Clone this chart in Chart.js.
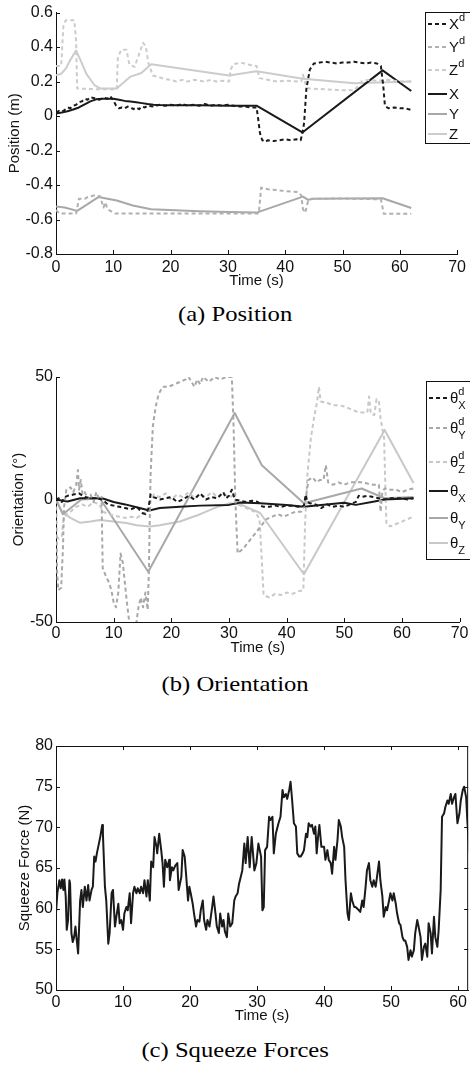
<!DOCTYPE html>
<html>
<head>
<meta charset="utf-8">
<script src="https://cdn.jsdelivr.net/npm/chart.js@4.4.1/dist/chart.umd.min.js"></script>
<style>
  body { margin: 0; background: #fff; width: 470px; height: 1070px; position: relative; overflow: hidden; }
  canvas { position: absolute; left: 0; }
  .cap { position: absolute; left: 0; width: 470px; text-align: center; color: #000;
         font: 22px "Liberation Serif", "Times New Roman", serif; line-height: 24px;
         transform: scaleX(1.12); transform-origin: 234px 50%; }
</style>
</head>
<body>
<canvas id="pos" width="470" height="300" style="top:0"></canvas>
<canvas id="ori" width="470" height="320" style="top:340px"></canvas>
<canvas id="frc" width="470" height="330" style="top:700px"></canvas>
<div class="cap" style="top:302px">(a) Position</div>
<div class="cap" style="top:672px">(b) Orientation</div>
<div class="cap" style="top:1038px">(c) Squeeze Forces</div>
<script>
// ---- (a) Position, [time s, metres]
const posXd = [[0,0.02],[0.5,0.03],[1,0.025],[1.5,0.035],[2,0.05],[2.5,0.045],[3,0.06],[3.5,0.065],[4,0.08],[4.5,0.085],[5,0.1],[5.5,0.095],[6,0.11],[6.5,0.105],[7,0.1],[7.5,0.095],[8,0.1],[8.5,0.105],[9,0.1],[9.5,0.115],[10,0.09],[10.5,0.06],[11,0.045],[11.5,0.05],[12,0.045],[12.5,0.055],[13,0.05],[13.5,0.04],[14,0.05],[14.5,0.04],[15,0.055],[15.5,0.05],[16,0.06],[17,0.055],[18,0.065],[19,0.06],[20,0.065],[21,0.06],[22,0.07],[23,0.06],[24,0.065],[25,0.06],[26,0.07],[27,0.06],[28,0.065],[29,0.06],[30,0.065],[31,0.06],[32,0.055],[33,0.055],[34,0.05],[35,0.05],[35.3,-0.02],[35.6,-0.1],[36,-0.14],[36.5,-0.15],[37,-0.14],[38,-0.145],[39,-0.14],[40,-0.135],[41,-0.14],[42,-0.135],[42.7,-0.14],[43,-0.1],[43.3,-0.04],[43.7,0.16],[44.3,0.27],[45,0.305],[46,0.31],[47,0.315],[48,0.31],[49,0.305],[50,0.31],[51,0.31],[52,0.315],[53,0.31],[54,0.305],[55,0.31],[56,0.305],[56.7,0.29],[57.1,0.18],[57.4,0.06],[58,0.045],[59,0.05],[60,0.045],[61,0.045],[62,0.035]];
const posYd = [[0,-0.545],[0.6,-0.565],[3.5,-0.565],[4,-0.48],[5,-0.48],[5.5,-0.47],[6.7,-0.46],[7.7,-0.465],[8,-0.5],[8.3,-0.53],[8.6,-0.5],[9,-0.54],[9.5,-0.55],[10.3,-0.565],[35.4,-0.565],[35.8,-0.415],[37,-0.425],[38.7,-0.43],[40,-0.435],[42.2,-0.44],[42.8,-0.46],[43.1,-0.54],[43.5,-0.56],[44,-0.49],[44.6,-0.48],[50,-0.478],[56.7,-0.483],[57.2,-0.567],[62,-0.567]];
const posZd = [[0,0.29],[0.9,0.29],[1.3,0.53],[1.7,0.555],[3.2,0.555],[3.5,0.44],[3.7,0.16],[7.7,0.155],[10.6,0.155],[10.8,0.34],[11.4,0.385],[12.3,0.385],[12.8,0.3],[13.7,0.285],[14.3,0.34],[15.2,0.425],[15.7,0.4],[16.1,0.31],[16.9,0.235],[18,0.225],[19,0.215],[20,0.21],[21,0.2],[22,0.21],[23,0.2],[24,0.21],[25,0.205],[26,0.2],[27,0.21],[28,0.2],[29,0.205],[30.2,0.2],[30.5,0.27],[30.9,0.3],[32.3,0.31],[33.4,0.3],[35,0.29],[35.5,0.22],[37,0.21],[38.7,0.2],[40,0.205],[42.8,0.2],[43.1,0.24],[43.5,0.19],[44,0.16],[47,0.155],[50,0.15],[52.1,0.15],[53.3,0.2],[54.5,0.21],[56,0.205],[58,0.21],[60,0.2],[62,0.2]];
const posX = [[0,0.015],[1,0.02],[2,0.028],[3,0.038],[4,0.05],[5,0.068],[6,0.085],[7,0.097],[8,0.1],[9,0.1],[10,0.1],[11,0.094],[12,0.088],[13,0.085],[14,0.08],[15,0.075],[16,0.07],[17,0.066],[18,0.064],[20,0.063],[25,0.062],[30,0.06],[35,0.06],[43,-0.095],[57,0.265],[62,0.145]];
const posY = [[0,-0.524],[1.5,-0.53],[3.7,-0.55],[7.4,-0.47],[10.6,-0.49],[13.4,-0.519],[16.6,-0.541],[25,-0.552],[30.2,-0.557],[35,-0.56],[43.1,-0.467],[44,-0.486],[45,-0.48],[57,-0.477],[62,-0.533]];
const posZ = [[0,0.237],[0.9,0.245],[1.8,0.28],[2.4,0.32],[3.5,0.38],[4.2,0.33],[5.3,0.245],[6.7,0.18],[7.7,0.16],[10.6,0.16],[12.9,0.227],[14.9,0.25],[16.6,0.3],[30.2,0.235],[35,0.26],[43.1,0.216],[52.1,0.19],[56.2,0.195],[62,0.2]];
const posLegend = [['X','d'],['Y','d'],['Z','d'],['X'],['Y'],['Z']];

// ---- (b) Orientation, [time s, degrees]
const oriXd = [[0,0],[0.5,0.5],[1,-1],[1.5,1],[2,1.5],[3,2],[4,2.5],[5,1],[6,0.5],[7,0.5],[8,0],[9,-2],[10,-2.5],[11,-3],[12,-3.5],[13,-4],[14,-3],[15,-5.5],[15.5,-6],[16,-4],[16.4,2],[16.8,1],[17.5,0.5],[18,0],[19,0.5],[20,1],[21,-1],[22,0],[23,1.5],[24,0],[25,2.5],[26,0],[27,1],[28,0.5],[29,3],[29.5,0.5],[30,1.5],[30.5,4],[31,0],[32,-0.5],[33,-1],[34,-0.5],[35,-1],[35.5,-2.5],[36,-3],[37,-3],[38,-2.5],[39,-3],[40,-2.5],[41,-2.5],[42,-3],[43,-2.5],[43.3,2],[43.6,-1],[44,-1.5],[45,-2],[46,-3.5],[47,-2],[48,-3],[49,-2.5],[50,-3],[51,-2],[52,-1],[52.5,1.5],[53,1],[54,1.5],[55,1],[56,0.5],[57,0],[58,0.5],[59,0.5],[60,0.5],[61,0],[62,0.5]];
const oriYd = [[0,0],[0.2,-30],[0.4,-37],[0.9,-36],[1.2,-20],[1.4,-3],[1.8,4],[2.5,5],[3,3],[3.5,6],[3.8,12],[4,4],[4.3,8],[4.6,2],[5,3],[5.5,0],[6,2],[6.5,-1],[7,3],[7.5,0],[7.9,1],[8.1,-28],[8.6,-31],[9.2,-34],[9.6,-37],[10,-42],[10.4,-44],[10.8,-38],[11.2,-22],[11.6,-26],[12.2,-40],[12.7,-50],[13.3,-53],[13.9,-51],[14.3,-44],[14.7,-40],[15.1,-44],[15.5,-38],[15.9,-45],[16.1,-30],[16.4,10],[16.8,30],[17.3,38],[17.8,43],[18.5,46],[19.5,46],[20.5,47],[21.5,48],[22.5,49],[23,50],[23.5,48],[24,46],[24.5,49],[25,47],[25.5,50],[26.5,48],[27.5,50],[28.5,49],[29.5,50],[30.5,50],[30.8,30],[31.1,0],[31.5,-22],[32.5,-20],[33.5,-17],[34.5,-14],[35.5,-11],[36.5,-8],[37.5,-7],[38.5,-6],[39.5,-7],[40.5,-6],[41.5,-5],[42.5,-5],[43,-3],[43.4,2],[43.8,8],[44.5,9],[45.2,7],[45.8,8],[46.4,8],[46.8,14],[47.2,7],[48,6],[49,7],[50,6],[51,7],[52,7],[53,7],[54,6.5],[55,6],[56,6],[56.3,-5],[56.6,3],[57,4.5],[58,4],[59,4],[60,3],[61,4],[62,4.5]];
const oriZd = [[0,-15],[0.5,-16],[1,-15],[1.3,-8],[1.8,-6],[2.5,-5],[3.5,-3],[4.5,-2],[5.5,-3],[6.5,-1],[7.5,-2],[8.2,-5],[9,-6],[10,-6.5],[11,-7],[12,-7.5],[13,-7],[14,-7.5],[15,-6],[16,-5],[16.5,0],[17,2],[18,1],[19,2.5],[20,0],[21,2],[22,1],[23,3],[24,0.5],[25,2],[26,1],[27,3],[28,1],[29,2.5],[30,1],[30.8,1.5],[31.5,-2],[32.5,-3],[33.5,-4],[34.5,-5],[35.3,-8],[35.7,-25],[36,-39],[37,-40],[38,-38.5],[39,-39],[40,-38],[41,-38.5],[42,-37.5],[42.9,-37],[43.2,-10],[43.6,10],[44.2,25],[44.8,34],[45.3,40],[45.6,46],[45.9,40],[47,39.5],[48,38.5],[49,38.5],[50,38],[51,37],[52,36],[53,35.5],[54,35.5],[54.3,42],[54.6,35],[55.2,34.5],[55.6,41],[56,40],[56.3,33],[56.9,25],[57.3,-10],[58,-11],[59,-10],[60,-9],[61,-8],[62,-7]];
const oriX = [[0,0],[1.2,-0.5],[2,-0.8],[4.2,0.5],[6,0.5],[8,0.5],[10,-1],[12,-2],[14,-3.2],[16.2,-4.5],[18,-3.5],[21.5,-3],[25,-2.5],[30,-2.2],[32,-1.2],[35.4,-1.5],[40,-2.2],[43,-3],[46,-2.2],[50,-1.3],[52,-2.2],[55,-0.9],[57,0],[60,0.3],[62,0.5]];
const oriY = [[0,0],[1.2,-6],[4.4,0],[7.6,0.5],[16,-29.5],[31,35.3],[35.7,14],[43,-1.5],[53,4.5],[57,0.5],[62,1]];
const oriZ = [[0,0],[1,-5],[2.5,-7.5],[4.2,-9.5],[6,-9],[7.6,-8.4],[10,-9],[12.2,-9.6],[14,-10.5],[16.3,-11],[18,-10.5],[21.5,-9],[25,-6],[28,-3],[30.2,-1.5],[32,-2],[35.4,-5.5],[43,-30.5],[57,28.4],[62,6.7]];
const oriLegend = [['θ','d','X'],['θ','d','Y'],['θ','d','Z'],['θ','','X'],['θ','','Y'],['θ','','Z']];

// ---- (c) Squeeze force, [time s, N]
const force = [[0,59.4],[0.2,61.9],[0.5,63.5],[0.7,62.5],[0.9,63.6],[1.1,62.3],[1.25,63.6],[1.45,61.5],[1.6,57.4],[1.8,58.6],[2,63.5],[2.1,63.1],[2.3,57],[2.5,55.9],[2.7,56.5],[2.9,57.8],[3.1,56.1],[3.3,54.5],[3.6,61],[3.8,62.3],[4,60.2],[4.3,62.7],[4.55,61],[4.8,62.9],[5,61],[5.3,62.3],[5.5,62.7],[5.7,66.4],[5.9,65.8],[6.1,66.8],[6.4,68],[6.6,68.8],[6.9,70.3],[7,69.2],[7.3,62.7],[7.5,61],[7.8,55.7],[8,57],[8.3,61.9],[8.5,62.3],[8.8,57.8],[9,59],[9.3,60.6],[9.5,58.2],[9.75,58.6],[10,57.4],[10.2,59.4],[10.5,60.2],[10.7,59.8],[11,61.9],[11.2,58.2],[11.5,61.9],[11.7,62.7],[12,61.9],[12.2,62.5],[12.5,61.9],[12.7,62.7],[13,61.9],[13.2,63.5],[13.5,61.5],[13.7,63.5],[14,61],[14.2,65.8],[14.5,65.1],[14.7,68.8],[15,67.6],[15.1,66.8],[15.4,69.2],[15.7,67.2],[15.9,65.6],[16.1,62.7],[16.3,66],[16.6,65.1],[16.9,66],[17,63.5],[17.3,65.1],[17.5,64.7],[17.8,65.3],[18.1,65.6],[18.3,62.3],[18.7,63.9],[18.9,67.2],[19.2,66.4],[19.4,64.3],[19.7,61],[19.9,62.7],[20.1,61.9],[20.4,60.6],[20.6,59.4],[20.9,57.8],[21.1,58.6],[21.4,58.4],[21.6,59.8],[21.9,61],[22.1,58.6],[22.4,57.4],[22.6,58.6],[22.9,57.8],[23.3,60.2],[23.5,61.5],[23.8,59.4],[24,57.8],[24.3,57],[24.5,59.4],[24.8,57.8],[25,58.6],[25.2,57.2],[25.5,56.5],[25.7,59.4],[26,57.8],[26.3,58.2],[26.6,61],[26.8,61.5],[27.1,61.9],[27.3,63],[27.8,64.7],[28.1,68],[28.3,65.6],[28.6,68.8],[28.9,65.1],[29.2,68.8],[29.6,64.7],[29.9,65.6],[30.2,68],[30.6,66.4],[30.8,59.8],[31,60.2],[31.2,67.2],[31.5,67.6],[31.8,71.3],[32,70.9],[32.3,71.3],[32.5,66.8],[32.8,69.2],[33.2,70.5],[33.5,71.3],[33.8,74.6],[34,73.7],[34.3,74.1],[34.5,73.5],[34.8,74.6],[35,75.6],[35.2,73.7],[35.5,70.5],[35.8,70.1],[36,66.8],[36.3,66.4],[36.5,66.4],[36.8,66.8],[37,67.2],[37.3,69.2],[37.5,68.8],[37.7,70.5],[38,70.1],[38.2,70.3],[38.5,69.2],[38.7,70.1],[38.9,66.8],[39.1,68.8],[39.3,70.3],[39.6,67.6],[40,67.6],[40.2,66],[40.5,67.2],[40.7,66],[41,65.6],[41.2,64.3],[41.5,67.6],[41.7,66],[42,68.4],[42.2,70.9],[42.5,70.1],[42.7,68.8],[43,67.6],[43.2,63.5],[43.5,59.4],[43.7,58.6],[44,61.9],[44.2,61],[44.5,60.2],[44.7,60.2],[45.2,59.8],[45.4,59.6],[45.7,61],[45.9,60.2],[46.2,62.7],[46.4,64.7],[46.7,65.6],[46.9,63.5],[47.2,62.7],[47.4,63.5],[47.7,62.7],[47.9,63.9],[48.2,65.8],[48.4,63.5],[48.7,61.5],[48.9,59],[49.2,60.2],[49.4,59.8],[49.7,61],[49.9,61.9],[50.2,61],[50.4,61.9],[50.7,60.6],[50.9,59.4],[51.2,58.2],[51.4,58],[51.7,56.5],[51.9,56.1],[52.1,56.1],[52.4,55.3],[52.6,53.7],[52.9,54.9],[53.1,54.1],[53.4,54.9],[53.6,57],[53.9,58.6],[54.1,57.8],[54.4,56.5],[54.6,53.7],[54.9,55.3],[55.1,55.7],[55.4,54.1],[55.6,58.2],[55.9,57],[56.1,54.5],[56.4,59],[56.6,56.5],[56.9,55.3],[57.1,57.4],[57.4,62.3],[57.6,71.3],[57.9,71.7],[58.1,72.5],[58.4,73.3],[58.6,72.9],[58.9,74.1],[59.1,72.9],[59.4,73.7],[59.6,74.1],[59.9,70.5],[60.2,71.7],[60.4,73.3],[60.7,74.6],[60.9,75],[61.2,73.7],[61.4,70.5],[61.7,66.8]];

const SANS = '"Liberation Sans", Arial, Helvetica, sans-serif';
const INK = '#111';
const pts = arr => arr.map(([x, y]) => ({ x, y }));
// tidy tick text: "0" not "-0.0", "0.6" not "0.6000001"
const tickText = v => {
  const r = Math.round(v * 1000) / 1000;
  return r === 0 ? '0' : String(r);
};

// inward tick marks (MATLAB style), optional full box
const inTicks = {
  id: 'inTicks',
  afterDraw(chart, args, o) {
    const { ctx, chartArea: a, scales: { x, y } } = chart;
    ctx.save();
    ctx.strokeStyle = INK;
    ctx.lineWidth = 1;
    ctx.beginPath();
    x.ticks.forEach(t => {
      const px = Math.round(x.getPixelForValue(t.value)) + 0.5;
      ctx.moveTo(px, a.bottom); ctx.lineTo(px, a.bottom - 4);
      if (o.box) { ctx.moveTo(px, a.top); ctx.lineTo(px, a.top + 4); }
    });
    y.ticks.forEach(t => {
      const py = Math.round(y.getPixelForValue(t.value)) + 0.5;
      ctx.moveTo(a.left, py); ctx.lineTo(a.left + 4, py);
      if (o.box) { ctx.moveTo(a.right, py); ctx.lineTo(a.right - 4, py); }
    });
    if (o.box) {
      ctx.moveTo(a.left, a.top + 0.5); ctx.lineTo(a.right, a.top + 0.5);
      ctx.moveTo(a.right - 0.5, a.top); ctx.lineTo(a.right - 0.5, a.bottom);
    }
    ctx.stroke();
    ctx.restore();
  }
};

// boxed legend with super/subscripts
const boxLegend = {
  id: 'boxLegend',
  afterDraw(chart, args, o) {
    if (!o.labels) return;
    const ctx = chart.ctx;
    ctx.save();
    ctx.fillStyle = '#fff';
    ctx.fillRect(o.left, o.top, 80, o.bottom - o.top);
    ctx.strokeStyle = INK;
    ctx.lineWidth = 1;
    ctx.strokeRect(o.left + 0.5, o.top + 0.5, 80, o.bottom - o.top);
    chart.data.datasets.forEach((ds, i) => {
      const y = o.rows[i];
      ctx.beginPath();
      ctx.setLineDash(ds.borderDash || []);
      ctx.strokeStyle = ds.borderColor;
      ctx.lineWidth = ds.borderWidth;
      ctx.moveTo(o.left + 3, y);
      ctx.lineTo(o.left + 22, y);
      ctx.stroke();
      ctx.setLineDash([]);
      const [main, sup, sub] = o.labels[i];
      ctx.fillStyle = INK;
      ctx.textBaseline = 'alphabetic';
      ctx.font = o.mainSize + 'px ' + SANS;
      ctx.fillText(main, o.left + 24, y + o.mainDy);
      const w = ctx.measureText(main).width;
      ctx.font = '11px ' + SANS;
      if (sup) ctx.fillText(sup, o.left + 24 + w, y - 3);
      if (sub) ctx.fillText(sub, o.left + 24 + w, y + 11);
    });
    ctx.restore();
  }
};

function lineSet(data, color, dashed, width) {
  return {
    data: pts(data), borderColor: color, borderWidth: width || 2,
    borderDash: dashed ? [4, 3] : [], pointRadius: 0, tension: 0, fill: false,
    borderJoinStyle: 'round'
  };
}

function axisOpts(c) {
  return {
    x: {
      type: 'linear', min: 0, max: c.xMax,
      ticks: { stepSize: 10, includeBounds: false, maxRotation: 0, autoSkip: false,
               padding: c.xTickPad, color: INK, font: { family: SANS, size: 16 }, callback: tickText },
      grid: { display: false, drawTicks: false },
      border: { color: INK, width: 1 },
      title: { display: true, text: 'Time (s)', color: INK, font: { family: SANS, size: 15 },
               padding: { top: 0, bottom: c.xTitlePad } },
      afterFit(s) { s.height = c.xHeight; }
    },
    y: {
      min: c.yMin, max: c.yMax,
      ticks: { stepSize: c.yStep, includeBounds: false, autoSkip: false, padding: 3,
               color: INK, font: { family: SANS, size: 16 }, callback: tickText },
      grid: { display: false, drawTicks: false },
      border: { color: INK, width: 1 },
      title: { display: true, text: c.yTitle, color: INK, font: { family: SANS, size: 15 },
               padding: { top: c.yTitlePad, bottom: 0 } },
      afterFit(s) { s.width = 56; }
    }
  };
}

function build(id, datasets, c, legend) {
  new Chart(document.getElementById(id), {
    type: 'line',
    data: { datasets },
    options: {
      responsive: false, animation: false, devicePixelRatio: 1,
      layout: { padding: { top: c.padTop, right: c.padRight, left: 0, bottom: 0 } },
      scales: axisOpts(c),
      plugins: { legend: { display: false }, tooltip: { enabled: false },
                 inTicks: { box: c.box }, boxLegend: legend || {} }
    },
    plugins: [inTicks, boxLegend]
  });
}

build('pos', [
  lineSet(posXd, '#1a1a1a', true),
  lineSet(posYd, '#b0b0b0', true),
  lineSet(posZd, '#cccccc', true),
  lineSet(posX, '#1a1a1a', false),
  lineSet(posY, '#a8a8a8', false),
  lineSet(posZ, '#cccccc', false)
], { xMax: 70, yMin: -0.8, yMax: 0.6, yStep: 0.2, yTitle: 'Position (m)', yTitlePad: 6,
     padTop: 10, padRight: 9, xHeight: 46, xTickPad: 4, xTitlePad: 10, box: false },
   { labels: posLegend, left: 425, top: 12, bottom: 143, rows: [24, 47, 70, 94, 114, 134],
     mainSize: 15, mainDy: 5 });

build('ori', [
  lineSet(oriXd, '#1a1a1a', true),
  lineSet(oriYd, '#a8a8a8', true),
  lineSet(oriZd, '#c8c8c8', true),
  lineSet(oriX, '#1a1a1a', false),
  lineSet(oriY, '#a8a8a8', false),
  lineSet(oriZ, '#c8c8c8', false)
], { xMax: 70, yMin: -50, yMax: 50, yStep: 50, yTitle: 'Orientation (°)', yTitlePad: 9.5,
     padTop: 37, padRight: 9, xHeight: 38, xTickPad: 1.5, xTitlePad: 3, box: false },
   { labels: oriLegend, left: 426, top: 41, bottom: 219, rows: [58, 88, 122, 151, 178, 203],
     mainSize: 15, mainDy: 4.5 });

build('frc', [
  lineSet(force, '#1a1a1a', false, 2)
], { xMax: 61.5, yMin: 50, yMax: 80, yStep: 5, yTitle: 'Squeeze Force (N)', yTitlePad: 16,
     padTop: 46, padRight: 0, xHeight: 40, xTickPad: 3, xTitlePad: 5, box: true });
</script>
</body>
</html>
